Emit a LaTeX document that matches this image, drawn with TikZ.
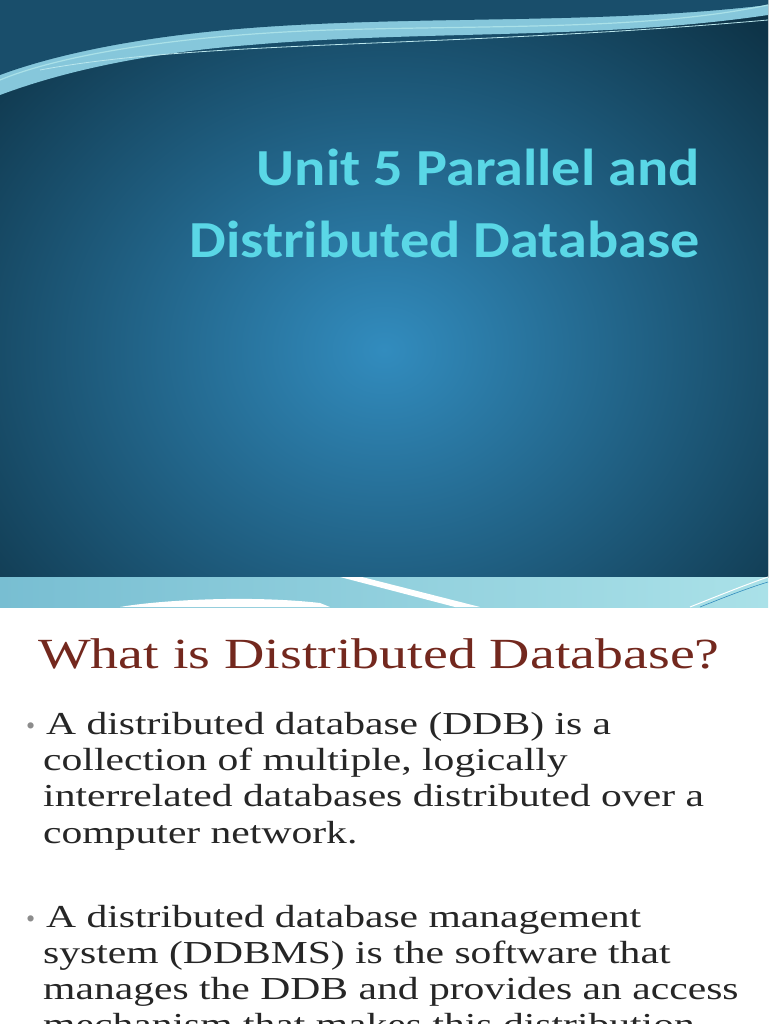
\documentclass[tikz,border=0pt]{standalone}
\usepackage{fontspec}
\setmainfont{Liberation Serif}
\newfontfamily\titlefont[FakeStretch=1.12]{Carlito}
\newfontfamily\bodyfont[FakeStretch=1.3]{Liberation Serif}
\begin{document}
\begin{tikzpicture}[x=1pt,y=-1pt,
  ttl/.style={anchor=base east,text=titlec,font=\titlefont\bfseries\fontsize{52}{60}\selectfont,inner sep=0},
  body/.style={anchor=base west,text=black!85,font=\bodyfont\fontsize{32}{36}\selectfont,inner sep=0},
  bul/.style={anchor=base west,text=black!45,font=\fontsize{26}{30}\selectfont,inner sep=0}]
\definecolor{titlec}{RGB}{90,215,230}
\definecolor{darkb}{RGB}{14,52,72}
\definecolor{midb}{RGB}{50,140,190}
\definecolor{bandl}{RGB}{120,190,210}
\definecolor{bandr}{RGB}{170,225,232}
\definecolor{headc}{RGB}{115,40,30}
\useasboundingbox (0,0) rectangle (768,1024);
\clip (0,0) rectangle (768,1024);
\fill[white] (0,0) rectangle (768,1024);
\begin{scope}
\clip (0,0) rectangle (768,577);
\fill[inner color=midb,outer color=darkb] (-150,-100) rectangle (918,800);
\end{scope}
\fill[bandr!70!midb] (0,0) -- (768,0) -- (768,15) .. controls (600,40) and (420,30) .. (250,45) .. controls (120,55) and (40,80) .. (0,95) -- cycle;
\fill[darkb!70!midb] (0,0) -- (768,0) -- (768,5) .. controls (600,25) and (420,15) .. (250,28) .. controls (120,38) and (40,60) .. (0,75) -- cycle;
\draw[bandr,line width=1.2] (0,80) .. controls (60,55) and (180,35) .. (330,30) .. controls (500,25) and (650,30) .. (768,5);
\draw[bandr!80!white,line width=0.8] (40,70) .. controls (200,40) and (450,48) .. (768,20);
\node[ttl] (t1) at (700,186) {Unit 5 Parallel and};
\node[ttl] (t2) at (700,258) {Distributed Database};
\fill[left color=bandl,right color=bandr] (0,577) rectangle (768,607);
\fill[white] (340,577) -- (362,577) -- (480,607) -- (455,607) -- cycle;
\fill[white] (120,607) .. controls (160,600) and (250,595) .. (320,603) -- (330,607) -- cycle;
\draw[white,line width=1] (690,607) .. controls (720,595) and (745,585) .. (768,577);
\draw[midb,line width=0.6] (700,607) .. controls (725,597) and (748,588) .. (768,582);
\node[anchor=base west,text=headc,font=\bodyfont\fontsize{43}{50}\selectfont,inner sep=0] (h) at (38,668) {What is Distributed Database?};
\node[bul] (b1) at (26,734) {•};
\node[body] (l1) at (46,734) {A distributed database (DDB) is a};
\node[body] (l2) at (43,770) {collection of multiple, logically};
\node[body] (l3) at (43,806) {interrelated databases distributed over a};
\node[body] (l4) at (43,843) {computer network.};
\node[bul] (b2) at (26,927) {•};
\node[body] (m1) at (46,927) {A distributed database management};
\node[body] (m2) at (43,963) {system (DDBMS) is the software that};
\node[body] (m3) at (43,999) {manages the DDB and provides an access};
\node[body] (m4) at (43,1035) {mechanism that makes this distribution};
\end{tikzpicture}
\end{document}
